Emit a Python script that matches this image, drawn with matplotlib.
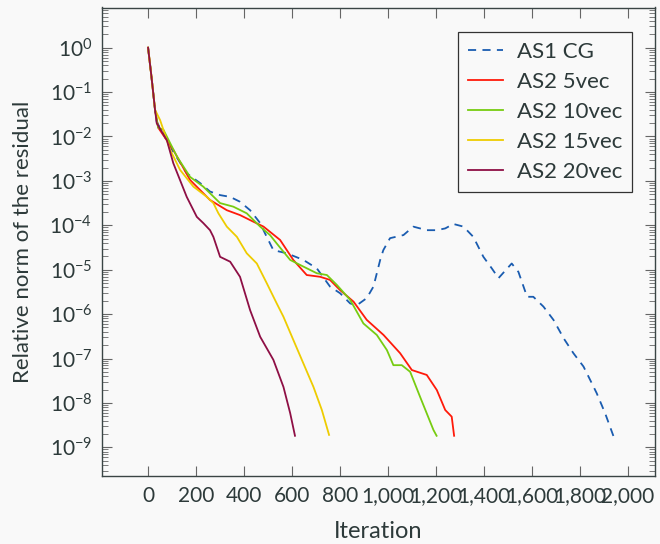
import matplotlib
matplotlib.use("Agg")
import matplotlib.pyplot as plt
from matplotlib.ticker import FixedLocator, LogLocator, NullFormatter

# ---------------- data (iteration, log10 of relative residual) ----------------
cg_iter = [0, 14, 29, 36, 92, 161, 217, 258, 300, 342, 383, 425, 467, 487, 522, 578,
           647, 703, 758, 800, 842, 870, 911, 939, 967, 980, 1008, 1064, 1105, 1161,
           1203, 1238, 1272, 1314, 1355, 1397, 1432, 1460, 1515, 1543, 1579, 1605,
           1647, 1689, 1732, 1772, 1814, 1849, 1869, 1904, 1939]
cg_log = [0.0, -0.65, -1.40, -1.67, -2.23, -2.83, -3.05, -3.24, -3.32, -3.36, -3.47,
          -3.66, -3.95, -4.18, -4.56, -4.63, -4.78, -4.97, -5.38, -5.53, -5.76, -5.80,
          -5.64, -5.38, -4.78, -4.56, -4.29, -4.22, -4.03, -4.11, -4.11, -4.07, -3.97,
          -4.03, -4.26, -4.71, -4.97, -5.19, -4.86, -5.05, -5.61, -5.61, -5.83, -6.13,
          -6.55, -6.88, -7.18, -7.56, -7.78, -8.23, -8.75]

v5_iter = [0, 14, 29, 42, 105, 175, 258, 328, 383, 439, 481, 550, 605, 661, 717, 758,
           800, 856, 911, 981, 1050, 1099, 1161, 1203, 1238, 1265, 1275]
v5_log = [0.0, -0.65, -1.40, -1.80, -2.30, -2.98, -3.43, -3.66, -3.77, -3.92, -4.03,
          -4.33, -4.78, -5.12, -5.16, -5.23, -5.46, -5.72, -6.13, -6.47, -6.88, -7.26,
          -7.37, -7.71, -8.16, -8.31, -8.74]

v10_iter = [0, 14, 29, 42, 64, 120, 175, 230, 300, 355, 411, 467, 508, 536, 592, 647,
            703, 745, 786, 842, 897, 953, 995, 1022, 1057, 1092, 1133, 1189, 1202]
v10_log = [0.0, -0.65, -1.40, -1.80, -1.85, -2.45, -2.91, -3.13, -3.50, -3.58, -3.73,
           -4.03, -4.22, -4.41, -4.78, -4.93, -5.08, -5.12, -5.34, -5.68, -6.21, -6.47,
           -6.81, -7.15, -7.15, -7.30, -7.86, -8.61, -8.74]

v15_iter = [0, 14, 29, 50, 92, 133, 189, 245, 272, 293, 328, 370, 411, 453, 495, 536,
            564, 605, 647, 689, 724, 754]
v15_log = [0.0, -0.65, -1.40, -1.63, -2.30, -2.75, -3.13, -3.36, -3.50, -3.73, -4.03,
           -4.26, -4.63, -4.86, -5.31, -5.76, -6.06, -6.58, -7.11, -7.64, -8.16, -8.72]

v20_iter = [0, 14, 29, 36, 78, 105, 133, 161, 203, 230, 258, 272, 300, 342, 383, 425,
            467, 522, 564, 592, 612]
v20_log = [0.0, -0.65, -1.40, -1.70, -2.08, -2.60, -2.98, -3.36, -3.81, -3.95, -4.11,
           -4.26, -4.71, -4.82, -5.16, -5.91, -6.51, -7.03, -7.64, -8.23, -8.74]

series_names = ["AS1 CG", "AS2 5vec", "AS2 10vec", "AS2 15vec", "AS2 20vec"]

xticks = [0, 200, 400, 600, 800, 1000, 1200, 1400, 1600, 1800, 2000]
xtick_labels = ["0", "200", "400", "600", "800", "1,000", "1,200", "1,400",
                "1,600", "1,800", "2,000"]
yticks = [1e0, 1e-1, 1e-2, 1e-3, 1e-4, 1e-5, 1e-6, 1e-7, 1e-8, 1e-9]
ytick_labels = [r"$10^{0}$", r"$10^{-1}$", r"$10^{-2}$", r"$10^{-3}$", r"$10^{-4}$",
                r"$10^{-5}$", r"$10^{-6}$", r"$10^{-7}$", r"$10^{-8}$", r"$10^{-9}$"]

# ---------------- style ----------------
TXT = "#2d3a3a"
BG = "#f9f9f9"
plt.rcParams["font.family"] = ["Lato", "DejaVu Sans"]
plt.rcParams["mathtext.fontset"] = "custom"
plt.rcParams["mathtext.rm"] = "Lato"
plt.rcParams["mathtext.it"] = "Lato:italic"
plt.rcParams["mathtext.bf"] = "Lato:bold"
plt.rcParams["text.color"] = TXT

fig = plt.figure(figsize=(6.6, 5.44), dpi=100, facecolor=BG)
ax = fig.add_axes([102 / 660, 68 / 544, 553 / 660, 468.5 / 544])
ax.set_facecolor(BG)

colors = ["#1a5cb0", "#ff1a0a", "#77cc11", "#eecc00", "#8e0f45"]
data = [(cg_iter, cg_log), (v5_iter, v5_log), (v10_iter, v10_log),
        (v15_iter, v15_log), (v20_iter, v20_log)]
for i, ((xs, ls), name, c) in enumerate(zip(data, series_names, colors)):
    ys = [10 ** v for v in ls]
    if i == 0:
        ax.plot(xs, ys, color=c, lw=1.3, ls=(0, (4.5, 3.5)), label=name, zorder=2)
    else:
        ax.plot(xs, ys, color=c, lw=1.3, label=name, zorder=3)

ax.set_yscale("log")
ax.set_xlim(-192, 2112)
ax.set_ylim(10 ** -9.646, 10 ** 0.905)

ax.xaxis.set_major_locator(FixedLocator(xticks))
ax.set_xticklabels(xtick_labels)
ax.yaxis.set_major_locator(FixedLocator(yticks))
ax.set_yticklabels(ytick_labels)
ax.yaxis.set_minor_locator(LogLocator(base=10, subs=[2, 3, 4, 5, 6, 7, 8, 9], numticks=30))
ax.yaxis.set_minor_formatter(NullFormatter())

ax.tick_params(which="both", direction="in", top=True, right=True, colors="#666666",
               labelcolor=TXT)
ax.tick_params(which="major", length=7, width=0.8, labelsize=15, pad=7)
ax.tick_params(which="minor", length=4, width=0.6)
ax.tick_params(axis="x", which="minor", top=False, bottom=False)

for s in ax.spines.values():
    s.set_color("#3a4545")
    s.set_linewidth(1.0)

ax.set_xlabel("Iteration", fontsize=17, labelpad=11, color=TXT)
ax.set_ylabel("Relative norm of the residual", fontsize=16, labelpad=12, color=TXT)

leg = ax.legend(loc="upper right", bbox_to_anchor=(1 - 23 / 553, 1 - 24.5 / 468.5),
                borderaxespad=0, fontsize=16, frameon=True, fancybox=False,
                edgecolor="#333333", facecolor=BG, framealpha=1,
                handlelength=1.6, handletextpad=0.6, labelspacing=0.45,
                borderpad=0.45)
leg.get_frame().set_linewidth(0.9)

fig.savefig("out.png", dpi=100, facecolor=BG)
